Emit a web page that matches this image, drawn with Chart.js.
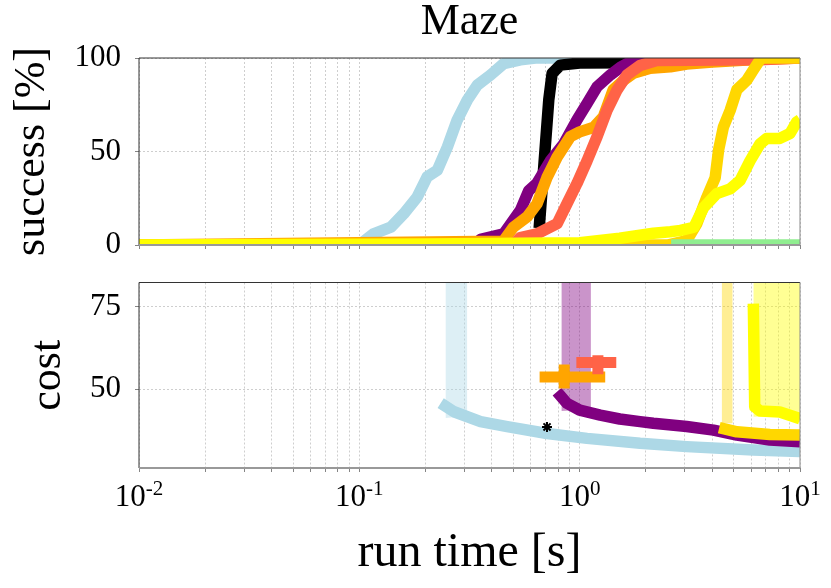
<!DOCTYPE html>
<html>
<head>
<meta charset="utf-8">
<script src="https://cdn.jsdelivr.net/npm/chart.js@4.4.1/dist/chart.umd.min.js"></script>
<style>
    html, body { margin: 0; padding: 0; background: #fff; }
    #wrap { position: relative; width: 831px; height: 588px; }
    .box { position: absolute; left: 0; width: 831px; }
    #top-box { top: 0; height: 270px; }
    #bottom-box { top: 270px; height: 318px; }
</style>
</head>
<body>
<div id="wrap">
    <div class="box" id="top-box"><canvas id="successChart" width="831" height="270"></canvas></div>
    <div class="box" id="bottom-box"><canvas id="costChart" width="831" height="318"></canvas></div>
</div>
<script>
// --- axes ---
const xTicks = [0.01, 0.02, 0.03, 0.04, 0.05, 0.06, 0.07, 0.08, 0.09,
                0.1, 0.2, 0.3, 0.4, 0.5, 0.6, 0.7, 0.8, 0.9,
                1, 2, 3, 4, 5, 6, 7, 8, 9, 10];
const xMajor = [0.01, 0.1, 1, 10];
const xMajorExponents = ['-2', '-1', '0', '1'];
const successTicks = [0, 50, 100];
const costTicks = [50, 75];

// --- success [%] over run time ---
const succLightblueT = [0.01, 0.1, 0.105, 0.116, 0.139, 0.159, 0.183, 0.203, 0.226, 0.251, 0.278, 0.309, 0.343, 0.394, 0.452, 0.538, 0.63, 10];
const succLightblueV = [0, 0, 2, 6, 9.5, 16.7, 25.6, 36.4, 40, 52.4, 66.8, 77.5, 85.5, 90.9, 97, 99, 100, 100];
const succBlackT = [0.655, 0.687, 0.724, 0.75, 0.817, 1.0, 1.75, 1.85, 10];
const succBlackV = [9, 41.7, 77.5, 91.8, 96.2, 97.3, 97.5, 100, 100];
const succPurpleT = [0.01, 0.33, 0.355, 0.452, 0.538, 0.587, 0.64, 0.736, 0.846, 0.973, 1.08, 1.2, 1.38, 1.53, 1.7, 1.88, 2.0, 10];
const succPurpleV = [0, 0, 3, 6, 18.5, 29, 33, 45, 54, 67, 75.7, 84.6, 91, 95, 98, 99.3, 100, 100];
const succOrangeT = [0.01, 0.45, 0.5, 0.577, 0.64, 0.71, 0.79, 0.907, 1.0, 1.16, 1.28, 1.42, 1.58, 1.75, 2.09, 2.58, 3.06, 4.0, 6.0, 10];
const succOrangeV = [0, 2, 9.5, 15, 22, 36, 47, 58, 60.5, 63, 68.5, 83, 88, 91.8, 94.5, 95.3, 96.8, 97.8, 99, 100];
const succTomatoT = [0.01, 0.5, 0.538, 0.64, 0.79, 0.875, 0.973, 1.08, 1.2, 1.33, 1.48, 1.64, 1.88, 2.24, 6.5, 10];
const succTomatoV = [0, 0, 4, 6, 11.4, 22, 33, 45, 58, 72, 83, 91, 96, 98.7, 99, 100];
const succGoldT = [0.01, 2.5, 3.06, 3.4, 3.78, 4.12, 4.27, 4.49, 4.82, 5.17, 5.73, 6.14, 6.58, 6.8, 10];
const succGoldV = [0, 0, 2.4, 11.4, 25.6, 36, 50.7, 63, 72, 83, 88, 93.6, 99, 100, 100];
const succYellowT = [0.01, 0.2, 1.0, 1.52, 2.16, 2.58, 2.87, 3.3, 3.65, 4.19, 4.82, 5.35, 5.93, 6.58, 7.06, 8.1, 9.0, 9.66, 10];
const succYellowV = [0, 0.6, 1.2, 3.6, 6.3, 7.1, 7.8, 9.5, 20, 27.5, 30, 34.6, 45, 54, 57, 57, 59.6, 65.8, 67];
const succGreenT = [2.6, 10];
const succGreenV = [0, 0];

// --- cost over run time ---
const costLightblueT = [0.234, 0.269, 0.355, 0.469, 0.711, 1.08, 1.88, 3.06, 6.14, 10];
const costLightblueC = [45.7, 43.1, 40.1, 38.6, 36.5, 35, 33.5, 32.5, 31.5, 31];
const bandLightblueT = [0.246, 0.309];
const bandLightblueC = [41.2, 41.8];
const costPurpleT = [0.789, 0.875, 1.0, 1.24, 1.52, 1.88, 2.16, 3.06, 4.05, 5.17, 7.3, 10];
const costPurpleC = [49.2, 45.7, 43.6, 42.1, 40.9, 40.1, 39.6, 38.6, 37.5, 36, 34.5, 34];
const bandPurpleT = [0.826, 1.0, 1.125];
const bandPurpleC = [43.3, 43.6, 44.5];
const costGoldT = [4.3, 5.17, 7.3, 10];
const costGoldC = [38.3, 37, 36.2, 36];
const bandGoldT = [4.41, 4.95];
const bandGoldC = [39.6, 39.6];
const costYellowT = [6.14, 6.23, 6.6, 8.1, 10];
const costYellowC = [76, 44.6, 43.3, 43.0, 41.0];
const bandYellowT = [6.14, 8.1, 10];
const bandYellowC = [41.6, 41.8, 40.0];
// error markers: [low, median, high]
const errOrangeT = [0.658, 0.851, 1.306];
const errOrangeC = [50.2, 53.7, 57.5];
const errTomatoT = [0.966, 1.21, 1.466];
const errTomatoC = [54.5, 58.1, 60.3];
const pointBlackT = [0.711];
const pointBlackC = [38.5];

const SERIF = "'Liberation Serif', 'DejaVu Serif', serif";
Chart.defaults.font.family = SERIF;
Chart.defaults.color = '#000';

function toPoints(xs, ys) {
    return xs.map((x, i) => ({ x: x, y: ys[i] }));
}

function lineSet(xs, ys, color, width) {
    return {
        data: toPoints(xs, ys),
        borderColor: color,
        borderWidth: width || 11.5,
        borderCapStyle: 'butt',
        borderJoinStyle: 'round',
        pointRadius: 0,
        tension: 0,
        fill: false,
        clip: 0
    };
}

function bandSet(xs, ys, color) {
    return {
        data: toPoints(xs, ys),
        borderColor: 'rgba(0,0,0,0)',
        borderWidth: 0,
        backgroundColor: color,
        pointRadius: 0,
        fill: 'end',
        clip: 0
    };
}

// horizontal and vertical bar of a median marker
function errorSets(ts, cs, color) {
    return [
        lineSet([ts[0], ts[2]], [cs[1], cs[1]], color, 11),
        lineSet([ts[1], ts[1]], [cs[0], cs[2]], color, 11)
    ];
}

// first in list = drawn first (bottom)
function stackOrder(datasets) {
    datasets.forEach((d, i) => { d.order = datasets.length - i; });
    return datasets;
}

const framePlugin = {
    id: 'frame',
    afterDatasetsDraw(chart) {
        const { ctx, chartArea: a } = chart;
        ctx.save();
        ctx.setLineDash([]);
        ctx.lineWidth = 1;
        ctx.strokeStyle = '#333';
        ctx.beginPath();
        ctx.moveTo(a.left, a.bottom);
        ctx.lineTo(a.left, a.top);
        ctx.lineTo(a.right, a.top);
        ctx.stroke();
        ctx.strokeStyle = '#888';
        ctx.beginPath();
        ctx.moveTo(a.right, a.top);
        ctx.lineTo(a.right, a.bottom);
        ctx.stroke();
        ctx.lineWidth = 2;
        ctx.strokeStyle = '#999';
        ctx.beginPath();
        ctx.moveTo(a.left, a.bottom);
        ctx.lineTo(a.right, a.bottom);
        ctx.stroke();
        ctx.restore();
    }
};

// "10" with a raised exponent under each decade tick
const decadeLabelsPlugin = {
    id: 'decadeLabels',
    afterDraw(chart) {
        const { ctx } = chart;
        const scale = chart.scales.x;
        const baseY = scale.top + 38;
        ctx.save();
        ctx.fillStyle = '#000';
        ctx.textBaseline = 'alphabetic';
        ctx.textAlign = 'left';
        xMajor.forEach((v, i) => {
            const exp = xMajorExponents[i];
            ctx.font = `31px ${SERIF}`;
            const wBase = ctx.measureText('10').width;
            ctx.font = `21px ${SERIF}`;
            const wExp = ctx.measureText(exp).width;
            const x0 = scale.getPixelForValue(v) - (wBase + wExp) / 2;
            ctx.font = `31px ${SERIF}`;
            ctx.fillText('10', x0, baseY);
            ctx.font = `21px ${SERIF}`;
            ctx.fillText(exp, x0 + wBase, baseY - 11);
        });
        ctx.restore();
    }
};

function xScale(height, title) {
    return {
        type: 'logarithmic',
        min: 0.01,
        max: 10,
        afterBuildTicks: s => { s.ticks = xTicks.map(v => ({ value: v })); },
        afterFit: s => { s.height = height; s.paddingLeft = 0; s.paddingRight = 0; },
        ticks: {
            autoSkip: false,
            maxRotation: 0,
            font: { size: 31 },
            callback: () => ''
        },
        grid: { color: '#c2c2c2', lineWidth: 0.8, tickColor: '#666', tickLength: 4, tickBorderDash: [] },
        border: { display: false, dash: [2, 2] },
        title: title ? { display: true, text: title, font: { size: 48 }, padding: { top: 0, bottom: 6 } } : { display: false }
    };
}

function yScale(min, max, tickValues, title, titlePad) {
    return {
        type: 'linear',
        min: min,
        max: max,
        afterBuildTicks: s => { s.ticks = tickValues.map(v => ({ value: v })); },
        afterFit: s => { s.width = 139; s.paddingTop = 0; s.paddingBottom = 0; },
        ticks: { padding: 14, font: { size: 31 } },
        grid: { color: '#c2c2c2', lineWidth: 0.8, tickColor: '#666', tickLength: 4, tickBorderDash: [] },
        border: { display: false, dash: [2, 2] },
        title: { display: true, text: title, font: { size: 44 }, padding: { top: titlePad, bottom: 0 } }
    };
}

function renderSuccessChart() {
    const ctx = document.getElementById('successChart');
    if (!ctx) return;

    const datasets = stackOrder([
        lineSet(succLightblueT, succLightblueV, '#ADD8E6'),
        lineSet(succBlackT, succBlackV, '#000000'),
        lineSet(succPurpleT, succPurpleV, '#800080'),
        lineSet(succOrangeT, succOrangeV, '#FFA500'),
        lineSet(succTomatoT, succTomatoV, '#FF6347'),
        lineSet(succGoldT, succGoldV, '#FFD700'),
        lineSet(succYellowT, succYellowV, '#FFFF00'),
        lineSet(succGreenT, succGreenV, '#90EE90')
    ]);

    new Chart(ctx, {
        type: 'line',
        data: { datasets: datasets },
        options: {
            responsive: false,
            animation: false,
            parsing: false,
            layout: { padding: { left: 0, right: 31, top: 0, bottom: 0 } },
            scales: {
                x: xScale(25, null),
                y: yScale(0, 100, successTicks, 'success [%]', 6)
            },
            plugins: {
                legend: { display: false },
                tooltip: { enabled: false },
                title: {
                    display: true,
                    text: 'Maze',
                    fullSize: false,
                    color: '#000',
                    font: { size: 44, weight: 'normal', lineHeight: 1 },
                    padding: { top: 0, bottom: 14 }
                }
            }
        },
        plugins: [framePlugin]
    });
}

function renderCostChart() {
    const ctx = document.getElementById('costChart');
    if (!ctx) return;

    const datasets = stackOrder([
        bandSet(bandLightblueT, bandLightblueC, 'rgba(173,216,230,0.42)'),
        bandSet(bandPurpleT, bandPurpleC, 'rgba(128,0,128,0.42)'),
        bandSet(bandGoldT, bandGoldC, 'rgba(255,215,0,0.42)'),
        bandSet(bandYellowT, bandYellowC, 'rgba(255,255,0,0.42)'),
        lineSet(costLightblueT, costLightblueC, '#ADD8E6'),
        lineSet(costPurpleT, costPurpleC, '#800080'),
        lineSet(costGoldT, costGoldC, '#FFD700'),
        lineSet(costYellowT, costYellowC, '#FFFF00'),
        ...errorSets(errOrangeT, errOrangeC, '#FFA500'),
        ...errorSets(errTomatoT, errTomatoC, '#FF6347'),
        {
            data: toPoints(pointBlackT, pointBlackC),
            showLine: false,
            pointStyle: 'star',
            pointRadius: 5,
            borderWidth: 2,
            borderColor: '#000',
            backgroundColor: '#000',
            clip: 0
        }
    ]);

    new Chart(ctx, {
        type: 'line',
        data: { datasets: datasets },
        options: {
            responsive: false,
            animation: false,
            parsing: false,
            layout: { padding: { left: 0, right: 31, top: 12.5, bottom: 0 } },
            scales: {
                x: xScale(120, 'run time [s]'),
                y: yScale(26, 82.4, costTicks, 'cost', 22)
            },
            plugins: {
                legend: { display: false },
                tooltip: { enabled: false }
            }
        },
        plugins: [framePlugin, decadeLabelsPlugin]
    });
}

renderSuccessChart();
renderCostChart();
</script>
</body>
</html>
